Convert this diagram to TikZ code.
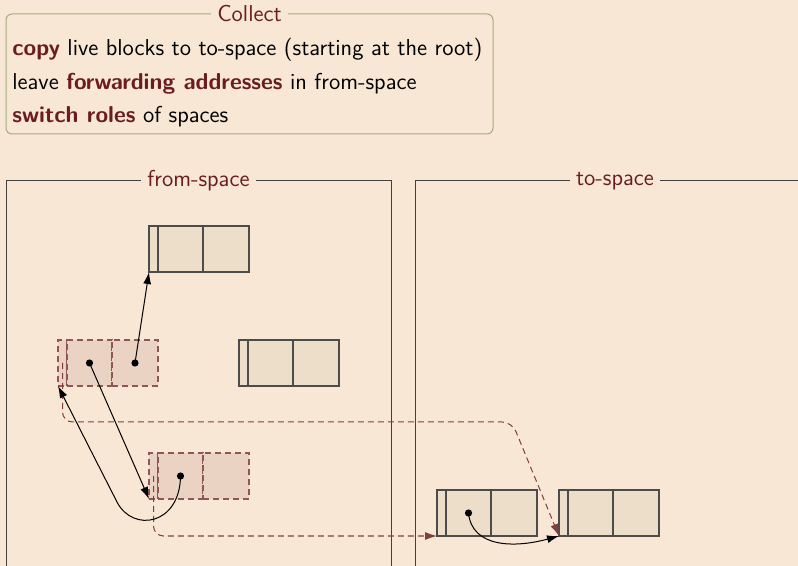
\documentclass[tikz,border=0pt]{standalone}
\usepackage{tikz}
\usetikzlibrary{positioning,arrows.meta}
\definecolor{slidebg}{HTML}{F7E7D4}
\definecolor{darkred}{HTML}{6B1D1D}
\definecolor{boxgreen}{HTML}{A2AC7E}
\definecolor{blockfill}{HTML}{ECDEC9}
\definecolor{fwdfill}{HTML}{EAD3C2}
\begin{document}
\begin{tikzpicture}[
  x=0.5pt, y=-0.5pt,
  font=\sffamily\fontsize{11.5}{13.5}\selectfont,
  hdr/.style={draw=black!70, line width=0.6pt, fill=blockfill, minimum width=4.5pt, minimum height=23pt, inner sep=0pt, outer sep=0pt},
  cell/.style={hdr, minimum width=22.5pt},
  fwd/.style={draw=darkred!75, dash pattern=on 3pt off 2pt, fill=fwdfill},
  ptr/.style={-{Latex[length=6pt,width=4pt]}, black, line width=0.5pt},
  fwdptr/.style={darkred!85, dash pattern=on 3pt off 2pt, line width=0.5pt, rounded corners=5pt, -{Latex[length=6pt,width=4pt]}},
  frame/.style={draw=black!75, line width=0.5pt, anchor=north west, inner sep=0pt, outer sep=0pt},
  title/.style={fill=slidebg, text=darkred, inner sep=3pt}
]
  \fill[slidebg] (0,0) rectangle (798,566);
  \useasboundingbox (0,0) rectangle (798,566);
  \clip (0,0) rectangle (798,566);

  % Collect box
  \node[frame, draw=boxgreen, rounded corners=3pt, minimum width=243.5pt, minimum height=60pt] (collect) at (6,14) {};
  \node[title] at (collect.north) {Collect};
  \node[anchor=west, inner sep=0pt] (l1) at (12,50) {\textcolor{darkred}{\bfseries copy} live blocks to to-space (starting at the root)};
  \node[anchor=west, inner sep=0pt] (l2) at (12,84) {leave \textcolor{darkred}{\bfseries forwarding addresses} in from-space};
  \node[anchor=west, inner sep=0pt] (l3) at (12,117) {\textcolor{darkred}{\bfseries switch roles} of spaces};

  % Spaces
  \node[frame, minimum width=192.5pt, minimum height=210pt] (from) at (6,181) {};
  \node[title] at (from.north) {from-space};
  \node[frame, minimum width=200pt, minimum height=210pt] (to) at (415,181) {};
  \node[title] at (to.north) {to-space};

  % Blocks in from-space
  \node[hdr] (Ah) at (153.5,249) {};
  \node[cell, right=0pt of Ah] (A1) {};
  \node[cell, right=0pt of A1, minimum width=23pt] (A2) {};

  \node[hdr, fwd] (Bh) at (62.5,363) {};
  \node[cell, fwd, right=0pt of Bh] (B1) {};
  \node[cell, fwd, right=0pt of B1, minimum width=23pt] (B2) {};

  \node[hdr] (Ch) at (243.5,363) {};
  \node[cell, right=0pt of Ch] (C1) {};
  \node[cell, right=0pt of C1, minimum width=23pt] (C2) {};

  \node[hdr, fwd] (Dh) at (153.5,476) {};
  \node[cell, fwd, right=0pt of Dh] (D1) {};
  \node[cell, fwd, right=0pt of D1, minimum width=23pt] (D2) {};

  % Blocks in to-space
  \node[hdr] (Eh) at (441.5,513) {};
  \node[cell, right=0pt of Eh] (E1) {};
  \node[cell, right=0pt of E1, minimum width=23pt] (E2) {};

  \node[hdr] (Fh) at (563.5,513) {};
  \node[cell, right=0pt of Fh] (F1) {};
  \node[cell, right=0pt of F1, minimum width=23pt] (F2) {};

  % Forwarding addresses
  \draw[fwdptr] (Bh.center) |- (512,422) -- (Fh.south west);
  \draw[fwdptr] (Dh.center) |- (Eh.south west);

  % Pointers
  \draw[ptr] (B2.center) -- (Ah.south west);
  \draw[ptr] (B1.center) -- (Dh.south west);
  \draw[ptr] (D1.center) .. controls (180,525) and (133,533) .. (117,502) -- (Bh.south west);
  \draw[ptr] (E1.center) .. controls (472,548) and (515,548) .. (Fh.south west);
  \fill (B1.center) circle (1.8pt);
  \fill (B2.center) circle (1.8pt);
  \fill (D1.center) circle (1.8pt);
  \fill (E1.center) circle (1.8pt);
\end{tikzpicture}
\end{document}
